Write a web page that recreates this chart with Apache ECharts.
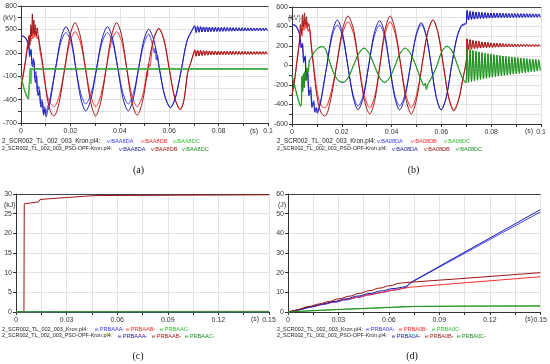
<!DOCTYPE html>
<html><head><meta charset="utf-8">
<script src="https://cdn.jsdelivr.net/npm/echarts@6/dist/echarts.min.js"></script>
<style>html,body{margin:0;padding:0;background:#fff}#c{width:550px;height:364px}</style>
</head><body><div id="c"></div>
<script>
// ---------- shared tail time grid (after 0.07 s) ----------
var tailT = [0.0703,0.0709,0.0715,0.0721,0.0727,0.0733,0.0739,0.0745,0.0751,0.0757,0.0763,0.0769,0.0775,0.0781,0.0787,0.0793,0.0799,0.0805,0.0811,0.0817,0.0823,0.0829,0.0835,0.0841,0.0847,0.0853,0.0859,0.0865,0.0871,0.0877,0.0883,0.0889,0.0895,0.0901,0.0907,0.0913,0.0919,0.0925,0.0931,0.0937,0.0943,0.0949,0.0955,0.0961,0.0967,0.0973,0.0979,0.0985,0.0991,0.0997];

// ---------- panel (a) kV ----------
var aBlueK = [[0,410],[0.0015,400],[0.003,300],[0.0036,180],[0.004,250],[0.0045,60],[0.005,130],[0.0056,-120],[0.006,-40],[0.0066,-300],[0.0072,-230],[0.0079,-460],[0.0085,-400],[0.009,-570],[0.0095,-490],[0.01,-580],[0.0107,-500],[0.0115,-420],[0.0128,-200],[0.014,0],[0.0161,330],[0.0182,460],[0.0203,330],[0.0222,0],[0.0242,-320],[0.0262,-456],[0.0284,-320],[0.0306,0],[0.0328,330],[0.035,460],[0.0371,330],[0.0392,0],[0.0413,-320],[0.0434,-456],[0.0455,-320],[0.0476,0],[0.0497,310],[0.0517,440],[0.053,330],[0.054,200],[0.0543,260],[0.0548,110],[0.0552,170],[0.056,0],[0.0582,-350],[0.0605,-500],[0.0627,-350],[0.065,0],[0.0672,350],[0.0695,500]];
var aBlueKTail = [540,465,535,470,532,468,530,470,528,472,527,473,526,474,525,475,524,476,523,476,523,477,522,477,522,478,521,478,521,479,520,479,520,480,520,480,519,481,519,481,518,482,518,482,518,482,517,483,517,483];
var aBlueP = [[0,420],[0.0015,405],[0.003,320],[0.0035,150],[0.004,230],[0.0046,20],[0.0052,100],[0.0058,-180],[0.0063,-100],[0.0069,-350],[0.0075,-280],[0.0081,-500],[0.0087,-430],[0.0092,-600],[0.0097,-520],[0.0102,-620],[0.0108,-540],[0.0116,-460],[0.0129,-220],[0.014,0],[0.0161,380],[0.0182,535],[0.0203,380],[0.0222,0],[0.0242,-385],[0.0262,-546],[0.0284,-385],[0.0306,0],[0.0328,380],[0.035,535],[0.0371,380],[0.0392,0],[0.0413,-385],[0.0434,-546],[0.0455,-385],[0.0476,0],[0.0497,360],[0.0517,500],[0.0538,360],[0.056,0],[0.0582,-355],[0.0605,-505],[0.0627,-355],[0.065,0],[0.0672,355],[0.0695,505]];
var aBluePTail = [548,458,540,462,536,466,533,468,531,470,529,472,528,473,527,474,526,475,525,476,524,477,523,478,523,478,522,479,522,479,521,480,521,480,520,481,520,481,519,482,519,482,518,483,518,483,518,483,517,484];
var aRedK = [[0,-200],[0.001,-50],[0.002,150],[0.0028,320],[0.0032,250],[0.0036,430],[0.004,350],[0.0044,500],[0.0048,380],[0.0052,520],[0.0056,400],[0.006,480],[0.0065,380],[0.007,420],[0.0075,260],[0.0085,80],[0.0095,-150],[0.0105,-330],[0.0115,-430],[0.0125,-470],[0.0134,-491],[0.0155,-350],[0.0177,0],[0.0198,340],[0.0219,471],[0.024,340],[0.0261,0],[0.0282,-350],[0.0302,-491],[0.0323,-350],[0.0345,0],[0.0366,340],[0.0387,471],[0.0408,340],[0.0428,0],[0.0449,-350],[0.047,-491],[0.0492,-350],[0.0506,-120],[0.0509,-40],[0.0512,-110],[0.0516,60],[0.0521,20],[0.0536,360],[0.0558,505],[0.0579,360],[0.06,0],[0.0622,-375],[0.0645,-525],[0.066,-400],[0.0675,-50],[0.0688,80],[0.07,200]];
var aRedKTail = [235,160,230,165,228,168,226,170,224,172,223,173,222,174,221,175,220,176,219,177,219,177,218,178,218,178,217,179,217,179,216,180,216,180,216,180,215,181,215,181,215,181,214,182,214,182,214,182,213,183];
var aRedP = [[0,-250],[0.001,-80],[0.002,130],[0.0028,300],[0.0032,420],[0.0036,300],[0.004,560],[0.0043,420],[0.0046,700],[0.0049,450],[0.0052,620],[0.0055,430],[0.0058,560],[0.0062,420],[0.0066,520],[0.007,400],[0.0076,300],[0.0086,100],[0.0096,-150],[0.0106,-380],[0.0116,-520],[0.0125,-590],[0.0134,-610],[0.0155,-430],[0.0177,0],[0.0198,415],[0.0219,586],[0.024,415],[0.0261,0],[0.0282,-430],[0.0302,-610],[0.0323,-430],[0.0345,0],[0.0366,415],[0.0387,586],[0.0408,415],[0.0428,0],[0.0449,-430],[0.047,-600],[0.0492,-425],[0.0514,0],[0.0536,365],[0.0558,515],[0.0579,365],[0.06,0],[0.0622,-375],[0.0645,-530],[0.066,-400],[0.0675,-50],[0.0688,80],[0.07,210]];
var aRedPTail = [240,155,235,160,231,164,228,167,226,169,225,171,223,172,222,173,221,174,220,175,220,176,219,177,219,177,218,178,218,178,217,179,217,179,216,180,216,180,216,180,215,181,215,181,215,181,214,182,214,182];
var aGreenK = [[0,-100],[0.001,-230],[0.002,-330],[0.003,-390],[0.0037,-410],[0.0038,-10],[0.004,-10],[0.0041,-200],[0.0043,-10],[0.1,-10]];
var aGreenP = [[0,-110],[0.001,-240],[0.002,-340],[0.003,-395],[0.0036,-415],[0.0037,-4],[0.1,-4]];

// ---------- panel (b) kV ----------
var bBlueK = [[0,415],[0.0015,405],[0.003,320],[0.0038,200],[0.0042,230],[0.0048,50],[0.0053,100],[0.0058,-120],[0.0063,-60],[0.0069,-280],[0.0075,-220],[0.0081,-400],[0.0087,-360],[0.0093,-460],[0.0098,-430],[0.0103,-470],[0.011,-420],[0.0118,-330],[0.013,-150],[0.014,0],[0.0161,295],[0.0182,415],[0.0203,295],[0.0224,0],[0.0245,-295],[0.0265,-415],[0.0287,-295],[0.0308,0],[0.033,295],[0.0352,415],[0.0372,295],[0.0392,0],[0.0412,-295],[0.0432,-415],[0.0454,-295],[0.0476,0],[0.0498,300],[0.0519,420],[0.0539,300],[0.0559,0],[0.0579,-320],[0.0599,-456],[0.062,-320],[0.0641,0],[0.0662,280],[0.068,400],[0.0695,420],[0.07,430]];
var bBlueKTail = [560,470,555,474,551,477,548,480,545,482,543,484,541,486,539,487,538,488,537,489,536,490,535,491,534,491,533,492,533,492,532,493,532,493,531,494,531,494,530,495,530,495,530,495,529,496,529,496,529,496];
var bBlueP = [[0,425],[0.0015,410],[0.003,330],[0.0037,180],[0.0041,220],[0.0047,30],[0.0052,90],[0.0057,-150],[0.0062,-80],[0.0068,-310],[0.0074,-250],[0.008,-430],[0.0086,-380],[0.0092,-480],[0.0097,-440],[0.0102,-490],[0.0109,-440],[0.0117,-350],[0.0129,-170],[0.014,0],[0.0161,330],[0.0182,467],[0.0203,330],[0.0224,0],[0.0245,-320],[0.0265,-456],[0.0287,-320],[0.0308,0],[0.033,330],[0.0352,460],[0.0372,330],[0.0392,0],[0.0412,-320],[0.0432,-456],[0.0454,-320],[0.0476,0],[0.0498,310],[0.0519,440],[0.0539,310],[0.0559,0],[0.0579,-320],[0.0599,-456],[0.062,-320],[0.0641,0],[0.0662,290],[0.068,410],[0.0695,430],[0.07,440]];
var bBluePTail = [565,466,558,471,553,475,549,478,546,481,544,483,542,485,540,486,539,487,538,488,537,489,536,490,535,490,534,491,533,492,533,492,532,493,532,493,531,494,531,494,530,495,530,495,529,496,529,496,529,497];
var bRedK = [[0,-300],[0.001,-150],[0.002,50],[0.003,250],[0.0036,380],[0.004,300],[0.0044,450],[0.0048,360],[0.0052,480],[0.0056,380],[0.006,450],[0.0065,350],[0.007,380],[0.0078,200],[0.0088,-20],[0.0098,-220],[0.0108,-350],[0.012,-420],[0.0133,-433],[0.0154,-306],[0.0179,0],[0.0202,318],[0.0225,449],[0.0248,318],[0.0269,0],[0.029,-306],[0.0312,-433],[0.0333,-306],[0.0353,0],[0.0373,318],[0.0394,449],[0.0415,318],[0.0437,0],[0.0458,-306],[0.0479,-433],[0.05,-306],[0.0522,0],[0.0544,330],[0.0566,467],[0.0587,330],[0.0608,0],[0.0629,-322],[0.065,-456],[0.067,-340],[0.0685,-150],[0.07,40]];
var bRedKTail = [270,165,262,170,256,174,250,177,245,180,241,182,237,184,234,186,231,187,229,188,227,189,225,190,223,191,222,192,221,192,220,193,219,193,218,194,217,194,216,195,216,195,215,196,215,196,214,196,214,197];
var bRedP = [[0,-310],[0.001,-160],[0.002,40],[0.003,240],[0.0034,420],[0.0038,330],[0.0042,520],[0.0046,400],[0.005,540],[0.0054,420],[0.0058,500],[0.0062,390],[0.0067,430],[0.0075,260],[0.0085,20],[0.0095,-220],[0.0105,-380],[0.0118,-490],[0.0133,-518],[0.0154,-366],[0.0179,0],[0.0202,359],[0.0225,508],[0.0248,359],[0.0269,0],[0.029,-351],[0.0312,-497],[0.0333,-351],[0.0353,0],[0.0373,359],[0.0394,508],[0.0415,359],[0.0437,0],[0.0458,-351],[0.0479,-497],[0.05,-351],[0.0522,0],[0.0544,330],[0.0566,467],[0.0587,330],[0.0608,0],[0.0629,-330],[0.065,-466],[0.067,-345],[0.0685,-150],[0.07,50]];
var bRedPTail = [275,160,266,166,259,171,253,175,248,178,243,181,239,183,236,185,233,186,230,187,228,188,226,189,224,190,223,191,222,191,221,192,220,193,219,193,218,194,217,194,217,195,216,195,215,195,215,196,214,196];
var bGreenK = [[0,-100],[0.001,-200],[0.002,-300],[0.003,-390],[0.0035,-415],[0.0038,-380],[0.004,-120],[0.0043,-250],[0.0046,-80],[0.0049,-220],[0.0052,-60],[0.0056,-150],[0.006,-20],[0.0065,-60],[0.007,60],[0.0078,80],[0.0088,130],[0.0098,160],[0.0108,180],[0.0118,190],[0.0125,193],[0.0135,170],[0.0145,90],[0.0165,-60],[0.0185,-150],[0.0205,-170],[0.0226,-120],[0.0247,0],[0.0268,120],[0.0289,175],[0.031,120],[0.0331,0],[0.0352,-120],[0.0372,-170],[0.0393,-120],[0.0414,0],[0.0434,120],[0.0455,175],[0.0476,120],[0.0497,0],[0.0518,-140],[0.053,-200],[0.0535,-180],[0.054,-230],[0.0545,-190],[0.055,-170],[0.0565,-100],[0.0582,0],[0.0602,140],[0.0623,195],[0.0644,140],[0.0665,0],[0.0685,-130],[0.0698,-175]];
var bGreenKTail = [170,-170,160,-162,152,-155,145,-148,138,-141,131,-135,125,-129,119,-123,114,-118,109,-113,104,-108,100,-104,96,-100,92,-96,88,-92,85,-88,81,-84,78,-80,75,-76,72,-72,69,-68,66,-64,63,-60,60,-55,57,-50];
var bGreenP = [[0,-105],[0.001,-205],[0.002,-305],[0.003,-395],[0.0035,-420],[0.0038,-370],[0.004,-110],[0.0043,-270],[0.0046,-90],[0.0049,-230],[0.0052,-70],[0.0056,-160],[0.006,-30],[0.0065,-70],[0.007,50],[0.0078,85],[0.0088,135],[0.0098,165],[0.0108,185],[0.0118,195],[0.0125,190],[0.0135,165],[0.0145,85],[0.0165,-65],[0.0185,-155],[0.0205,-175],[0.0226,-125],[0.0247,0],[0.0268,125],[0.0289,180],[0.031,125],[0.0331,0],[0.0352,-125],[0.0372,-175],[0.0393,-125],[0.0414,0],[0.0434,125],[0.0455,180],[0.0476,125],[0.0497,0],[0.0518,-145],[0.053,-210],[0.0535,-185],[0.054,-250],[0.0545,-200],[0.055,-175],[0.0565,-105],[0.0582,0],[0.0602,145],[0.0623,200],[0.0644,145],[0.0665,0],[0.0685,-135],[0.0698,-180]];
var bGreenPTail = [175,-176,164,-166,155,-158,147,-150,140,-143,133,-137,127,-131,121,-125,116,-120,111,-115,106,-110,102,-106,98,-101,94,-97,90,-93,86,-89,83,-85,80,-81,77,-77,74,-73,71,-69,68,-65,65,-61,62,-57,59,-52];

// ---------- panel (c) kJ ----------
var cBlueK = [[0,0],[0.15,0]];
var cRedK = [[0,0],[0.02,0],[0.025,0.15],[0.15,0.2]];
var cGreenK = [[0,0],[0.15,0]];
var cBlueP = [[0,0],[0.15,0]];
var cRedP = [[0,0],[0.0047,0],[0.0049,27.5],[0.006,27.8],[0.0135,28.0],[0.0142,28.6],[0.02,28.8],[0.03,29.1],[0.04,29.4],[0.047,29.6],[0.048,29.8],[0.15,29.8]];
var cGreenP = [[0,0],[0.15,0]];

// ---------- panel (d) J ----------
var dBlueK = [[0,0],[0.004,0.6],[0.008,1.3],[0.012,2.2],[0.016,2.8],[0.019,3.6],[0.022,3.9],[0.026,4.8],[0.029,5.0],[0.033,6.0],[0.036,6.2],[0.04,7.3],[0.043,7.5],[0.047,8.6],[0.05,8.8],[0.054,9.8],[0.057,10.0],[0.061,11.0],[0.064,11.2],[0.068,12.0],[0.0705,12.6],[0.0725,14.5],[0.075,15.8],[0.1,27.5],[0.125,39.2],[0.15,50.8]];
var dRedK = [[0,0],[0.005,0.9],[0.01,2.0],[0.015,3.0],[0.02,3.9],[0.025,4.8],[0.03,5.6],[0.035,6.5],[0.04,7.3],[0.045,8.2],[0.05,9.0],[0.055,9.8],[0.06,10.7],[0.065,11.5],[0.07,12.2],[0.0725,12.6],[0.1,14.5],[0.125,16.2],[0.15,17.9]];
var dGreenK = [[0,0],[0.01,0.45],[0.02,0.85],[0.03,1.2],[0.04,1.55],[0.05,1.9],[0.06,2.25],[0.07,2.6],[0.075,2.75],[0.09,2.85],[0.12,2.95],[0.15,3.0]];
var dBlueP = [[0,0],[0.004,0.7],[0.008,1.4],[0.012,2.4],[0.016,3.0],[0.019,3.9],[0.022,4.2],[0.026,5.2],[0.029,5.5],[0.033,6.6],[0.036,6.8],[0.04,8.0],[0.043,8.2],[0.047,9.3],[0.05,9.5],[0.054,10.6],[0.057,10.8],[0.061,11.8],[0.064,12.0],[0.068,12.6],[0.0705,13.0],[0.0725,14.8],[0.075,16.0],[0.1,28.0],[0.125,40.0],[0.15,52.0]];
var dRedP = [[0,0],[0.004,0.8],[0.008,1.7],[0.011,2.7],[0.014,3.0],[0.017,3.9],[0.02,4.3],[0.023,5.2],[0.026,5.6],[0.029,6.6],[0.032,6.9],[0.035,7.9],[0.038,8.2],[0.041,9.3],[0.044,9.6],[0.047,10.7],[0.05,11.0],[0.053,12.0],[0.056,12.3],[0.059,13.2],[0.062,13.5],[0.065,14.5],[0.068,14.8],[0.072,15.1],[0.1,16.8],[0.125,18.4],[0.15,20.0]];
var dGreenP = [[0,0],[0.01,0.5],[0.02,0.9],[0.03,1.3],[0.04,1.65],[0.05,2.0],[0.06,2.35],[0.07,2.7],[0.075,2.85],[0.09,2.95],[0.12,3.05],[0.15,3.1]];

// ---------- text ----------
var fileK = "2_SCR002_TL_002_003_Kron.pl4:";
var fileP = "2_SCR002_TL_002_003_PSO-OPF-Kron.pl4:";
var aNames = ["v:BAA8DA","v:BAA8DB","v:BAA8DC"];
var bNames = ["v:BA08DA","v:BA08DB","v:BA08DC"];
var cNames = ["e:PRBAAA-","e:PRBAAB-","e:PRBAAC-"];
var dNames = ["e:PRBA0A-","e:PRBA0B-","e:PRBA0C-"];
var units = ["(kV)","(kV)","(kJ)","(J)"];
var captions = ["(a)","(b)","(c)","(d)"];

// ---------- styling ----------
var colK = ['#4040ff','#ff2e2e','#40c040'];
var colP = ['#1c1ca6','#9c1616','#1e8c1e'];
var legK = ['#3a3aff','#ff2a2a','#2fbf2f'];
var legP = ['#22229a','#a01c1c','#1f901f'];
var tickFont = 'Liberation Sans';

function withTail(head, tail){
  return head.concat(tailT.map(function(t,i){return [t, tail[i]];}));
}

var grids = [
  {left:20, top:6, width:248, height:117},
  {left:292, top:7, width:249, height:117},
  {left:16, top:194, width:253, height:118},
  {left:288, top:194, width:255, height:118}
];
var xCfg = [
  {max:0.1, interval:0.02},{max:0.1, interval:0.02},
  {max:0.15, interval:0.03},{max:0.15, interval:0.03}
];
var yCfg = [
  {min:-700, max:800, interval:300, minor:true},
  {min:-600, max:600, interval:200, minor:true},
  {min:0, max:30, interval:5, minor:false},
  {min:0, max:60, interval:10, minor:false}
];

var xAxes = [], yAxes = [];
grids.forEach(function(g, i){
  xAxes.push({
    gridIndex:i, type:'value', min:0, max:xCfg[i].max, interval:xCfg[i].interval,
    axisLine:{show:true, onZero:false, lineStyle:{color:'#333', width:1}},
    axisTick:{show:true, length:3, lineStyle:{color:'#333'}},
    minorTick:{show:true, splitNumber:2, length:3, lineStyle:{color:'#333'}},
    splitLine:{show:true, lineStyle:{color:'#e2e2e2', width:1}},
    minorSplitLine:{show:true, lineStyle:{color:'#e2e2e2', width:1}},
    axisLabel:{fontSize:7, fontFamily:tickFont, color:'#333', margin:5,
      formatter:function(v){return String(+v.toFixed(3));}}
  });
  xAxes.push({
    gridIndex:i, type:'value', position:'top', min:0, max:xCfg[i].max,
    axisLine:{show:true, onZero:false, lineStyle:{color:'#444', width:1}},
    axisTick:{show:false}, axisLabel:{show:false}, splitLine:{show:false}
  });
  yAxes.push({
    gridIndex:i, type:'value', min:yCfg[i].min, max:yCfg[i].max, interval:yCfg[i].interval,
    axisLine:{show:true, onZero:false, lineStyle:{color:'#333', width:1}},
    axisTick:{show:true, length:3, lineStyle:{color:'#333'}},
    minorTick:{show:yCfg[i].minor, splitNumber:2, length:3, lineStyle:{color:'#333'}},
    splitLine:{show:true, lineStyle:{color:'#e2e2e2', width:1}},
    minorSplitLine:{show:yCfg[i].minor, lineStyle:{color:'#e2e2e2', width:1}},
    axisLabel:{fontSize:7, fontFamily:tickFont, color:'#333', margin:4}
  });
});

var series = [];
function add(gi, data, color, smooth, w){
  series.push({type:'line', xAxisIndex:gi*2, yAxisIndex:gi, data:data, symbol:'none',
    smooth:smooth, lineStyle:{color:color, width:w||1}, silent:true, animation:false, clip:true});
}
// (a)
add(0, withTail(aBlueK, aBlueKTail), colK[0], 0.3);
add(0, withTail(aRedK, aRedKTail), colK[1], 0.3);
add(0, aGreenK, '#5cc85c', false, 1.5);
add(0, withTail(aBlueP, aBluePTail), colP[0], 0.3);
add(0, withTail(aRedP, aRedPTail), colP[1], 0.3);
add(0, aGreenP, '#4fa84f', false, 1.2);
// (b)
add(1, withTail(bBlueK, bBlueKTail), colK[0], 0.3);
add(1, withTail(bRedK, bRedKTail), colK[1], 0.3);
add(1, withTail(bGreenK, bGreenKTail), colK[2], 0.3);
add(1, withTail(bBlueP, bBluePTail), colP[0], 0.3);
add(1, withTail(bRedP, bRedPTail), colP[1], 0.3);
add(1, withTail(bGreenP, bGreenPTail), colP[2], 0.3);
// (c)
add(2, cBlueK, colK[0], false);
add(2, cRedK, '#ff8080', false);
add(2, cBlueP, colP[0], false);
add(2, cRedP, colP[1], false);
add(2, cGreenK, colK[2], false);
add(2, cGreenP, colP[2], false);
// (d)
add(3, dBlueK, colK[0], false);
add(3, dRedK, colK[1], false);
add(3, dGreenK, colK[2], false);
add(3, dBlueP, colP[0], false);
add(3, dRedP, colP[1], false);
add(3, dGreenP, colP[2], false);

// ---------- graphic text ----------
var gfx = [];
function txt(x, y, s, color, size, family, align){
  gfx.push({type:'text', x:x, y:y, silent:true,
    style:{text:s, fill:color, font:size+'px "'+(family||'Liberation Sans')+'"', verticalAlign:'middle', align:align||'left'}});
}
var nameFs = 5.6;
var legendSets = [
  {names:aNames, x0:2, y1:141, y2:149, f1:6.3, f2:5.4, kx:[107,141,173], px:[119,151,182]},
  {names:bNames, x0:277, y1:141, y2:149, f1:6.3, f2:5.4, kx:[377,411,444], px:[392,424,456]},
  {names:cNames, x0:2, y1:329, y2:336, f1:5.5, f2:5.4, kx:[95,126,160], px:[118,152,185]},
  {names:dNames, x0:277, y1:329, y2:336, f1:5.5, f2:5.4, kx:[366,399,432], px:[392,425,457]}
];
legendSets.forEach(function(L){
  txt(L.x0, L.y1, fileK, '#222', L.f1);
  txt(L.x0, L.y2, fileP, '#222', L.f2);
  for (var k=0;k<3;k++){
    txt(L.kx[k], L.y1, L.names[k], legK[k], nameFs);
    txt(L.px[k], L.y2, L.names[k], legP[k], nameFs);
  }
});
// unit labels
txt(3, 18, units[0], '#333', 7);
txt(288, 18, units[1], '#333', 7);
txt(4, 205, units[2], '#333', 7);
txt(278, 205, units[3], '#333', 7);
// (s) labels
txt(250, 131, '(s)', '#333', 7);
txt(525, 131, '(s)', '#333', 7);
txt(251, 319, '(s)', '#333', 7);
txt(525, 319, '(s)', '#333', 7);
// captions
txt(138.5, 170, captions[0], '#111', 10, 'Liberation Serif', 'center');
txt(413.5, 170, captions[1], '#111', 10, 'Liberation Serif', 'center');
txt(138, 356, captions[2], '#111', 10, 'Liberation Serif', 'center');
txt(412, 356, captions[3], '#111', 10, 'Liberation Serif', 'center');

var chart = echarts.init(document.getElementById('c'), null, {renderer:'canvas'});
chart.setOption({
  animation:false,
  backgroundColor:'#fff',
  grid:grids.map(function(g){return Object.assign({containLabel:false}, g);}),
  xAxis:xAxes, yAxis:yAxes, series:series, graphic:gfx
});
</script></body></html>
